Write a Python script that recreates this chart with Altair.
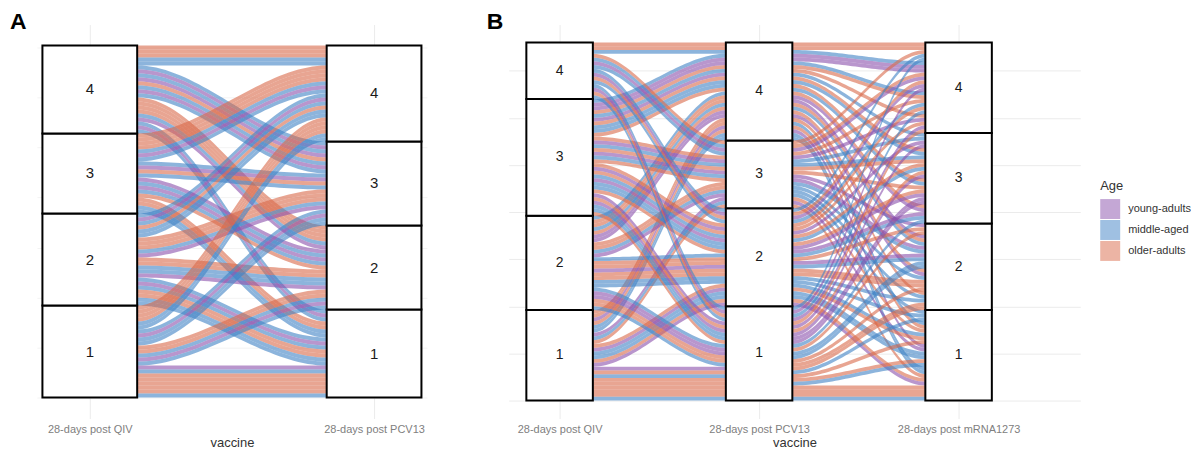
import altair as alt
import numpy as np
import pandas as pd

alt.data_transformers.disable_max_rows()

FONT = "Liberation Sans"
AGE_LEVELS = ["young-adults", "middle-aged", "older-adults"]
AGE_CODE = {"Y": "young-adults", "M": "middle-aged", "O": "older-adults"}
AGE_COLORS = ["#8A50AC", "#3F82C5", "#D9694A"]

A_AXES = ["28-days post QIV", "28-days post PCV13"]
B_AXES = ["28-days post QIV", "28-days post PCV13", "28-days post mRNA1273"]

# ---- Panel A: QIV quartile -> PCV13 quartile; ages of the subjects in each cell (top to bottom)
A_from = [4, 4, 4, 4, 3, 3, 3, 3, 2, 2, 2, 2, 1, 1, 1, 1]
A_to = [4, 3, 2, 1, 4, 3, 2, 1, 4, 3, 2, 1, 4, 3, 2, 1]
A_ages = ["OOOMM", "MYMYOMYM", "OOOOMY", "MYM",
          "OOOOMYM", "MYOM", "YMYMO", "OOMM",
          "MYMOMM", "OOOMY", "OOMMY", "MYMOOMM",
          "OOOOMM", "MYMM", "OOMYM", "YMOOOOOM"]

# ---- Panel B: one character per subject (grouped by PCV13 quartile)
B_pcv = ("44444444444444444444444444"
         "333333333333333333"
         "22222222222222222222222222"
         "1111111111111111111111111")
B_qiv = ("444" "3333333333" "2222222" "111111"
         "4444" "3333333" "2222" "111"
         "4444" "33333333" "22222222" "111111"
         "4444" "333333" "222222" "111111111")
B_mrna = ("443" "4231423412" "3412342" "431321"
          "3241" "4231243" "2413" "421"
          "2134" "34123142" "23413214" "312431"
          "4321" "324132" "413213" "234112141")
B_age = ("OOM" "MYOMYOMYOM" "OMYOMOY" "OOMYOM"
         "MYOM" "OYMOMYO" "MOYO" "YMO"
         "OMYM" "OOMYMOYM" "OOMMYOMO" "YOMOMY"
         "MYOM" "OMYOYM" "MOYOMY" "OMYOOOOOM")

W = 1 / 6  # half width of a stratum box (axis units)
T = np.linspace(0, 1, 41)
S = 3 * T ** 2 - 2 * T ** 3


def lode_bottoms(strata, keys):
    counts = {s: strata.count(s) for s in range(1, 5)}
    top, cum = {}, 0
    for s in range(1, 5):
        cum += counts[s]
        top[s] = cum
    pos = [0] * len(strata)
    for s in range(1, 5):
        idx = sorted([i for i, v in enumerate(strata) if v == s], key=lambda i: keys[i])
        for k, i in enumerate(idx):
            pos[i] = top[s] - k - 1
    return pos


def strata_rows(strata, axis_pos):
    rows, cum = [], 0
    for s in range(1, 5):
        n = strata.count(s)
        rows.append(dict(x0=axis_pos - W, x1=axis_pos + W, xc=axis_pos,
                         lo=cum, hi=cum + n, yc=cum + n / 2, label=str(s)))
        cum += n
    return rows


def flow_rows(xa, lo_a, lo_b, ages, prefix):
    rows = []
    x0, x1 = xa + W, xa + 1 - W
    for i, (a, b, g) in enumerate(zip(lo_a, lo_b, ages)):
        for t, s in zip(T, S):
            lo = a + (b - a) * s
            rows.append(dict(rid=f"{prefix}{i}", x=x0 + (x1 - x0) * t, lo=lo, hi=lo + 1,
                             age=AGE_CODE[g]))
    return rows


# ---- build panel A
qa, pa, ga = [], [], []
for f, t, ages in zip(A_from, A_to, A_ages):
    for g in ages:
        qa.append(f)
        pa.append(t)
        ga.append(g)
nA = len(qa)
A_left = lode_bottoms(qa, [(-pa[i], i) for i in range(nA)])
A_right = lode_bottoms(pa, [(-qa[i], i) for i in range(nA)])
A_flow = pd.DataFrame(flow_rows(1, A_left, A_right, ga, "a"))
A_strata = pd.DataFrame(strata_rows(qa, 1) + strata_rows(pa, 2))

# ---- build panel B
qb = [int(c) for c in B_qiv]
pb = [int(c) for c in B_pcv]
mb = [int(c) for c in B_mrna]
gb = list(B_age)
nB = len(qb)
assert len(pb) == nB and len(mb) == nB and len(gb) == nB
B1_left = lode_bottoms(qb, [(-pb[i], -mb[i], i) for i in range(nB)])
B1_right = lode_bottoms(pb, [(-qb[i], -mb[i], i) for i in range(nB)])
B2_left = lode_bottoms(pb, [(-mb[i], -qb[i], i) for i in range(nB)])
B2_right = lode_bottoms(mb, [(-qb[i], -pb[i], i) for i in range(nB)])
B_flow = pd.DataFrame(flow_rows(1, B1_left, B1_right, gb, "b") +
                      flow_rows(2, B2_left, B2_right, gb, "c"))
B_strata = pd.DataFrame(strata_rows(qb, 1) + strata_rows(pb, 2) + strata_rows(mb, 3))


def panel(flow_df, strata_df, axes_names, xdom, ydom, width, height, letter, letter_dx,
          legend, num_size, grid_color):
    xscale = alt.Scale(domain=xdom, nice=False, zero=False)
    yscale = alt.Scale(domain=ydom, nice=False, zero=False)
    names = "[''," + ",".join(f"'{n}'" for n in axes_names) + "]"
    xaxis = alt.Axis(values=list(range(1, len(axes_names) + 1)), labelExpr=f"{names}[datum.value]",
                     title="vaccine", grid=True, gridColor="#EBEBEB", domain=False, ticks=False,
                     labelFont=FONT, labelFontSize=11, labelColor="#808080", labelPadding=5,
                     titleFont=FONT, titleFontSize=13, titleFontWeight="normal",
                     titleColor="#333333", titlePadding=2)
    yaxis = alt.Axis(values=[k * 12.5 for k in range(8)], labels=False, ticks=False,
                     domain=False, title=None, grid=True, gridColor=grid_color)
    color_kw = dict(scale=alt.Scale(domain=AGE_LEVELS, range=AGE_COLORS))
    color_kw["legend"] = legend
    flows = alt.Chart(flow_df).mark_area(opacity=0.6, interpolate="linear").encode(
        x=alt.X("x:Q", scale=xscale, axis=xaxis),
        y=alt.Y("lo:Q", scale=yscale, axis=yaxis, stack=None),
        y2="hi:Q",
        color=alt.Color("age:N", **color_kw),
        detail="rid:N",
    )
    boxes = alt.Chart(strata_df).mark_rect(fill="white", stroke="black", strokeWidth=2).encode(
        x=alt.X("x0:Q", scale=xscale, axis=xaxis), x2="x1:Q",
        y=alt.Y("lo:Q", scale=yscale, axis=yaxis), y2="hi:Q",
    )
    nums = alt.Chart(strata_df).mark_text(font=FONT, fontSize=num_size, color="#1a1a1a").encode(
        x=alt.X("xc:Q", scale=xscale, axis=xaxis),
        y=alt.Y("yc:Q", scale=yscale, axis=yaxis),
        text="label:N",
    )
    tag = alt.Chart(pd.DataFrame({"t": [letter]})).mark_text(
        align="left", baseline="top", font=FONT, fontSize=23, fontWeight="bold", color="black"
    ).encode(x=alt.value(letter_dx), y=alt.value(-14), text="t:N")
    return alt.layer(flows, boxes, nums, tag).properties(
        width=width, height=height,
        view=alt.ViewBackground(stroke="transparent", strokeWidth=0),
    )


legend_B = alt.Legend(title="Age", orient="none", legendX=593, legendY=156,
                      symbolType="square", symbolSize=400, symbolOpacity=0.5,
                      symbolStrokeWidth=0, titleFont=FONT, titleFontSize=13,
                      titleFontWeight="normal", titleColor="#333333", titlePadding=6,
                      labelFont=FONT, labelFontSize=11, labelColor="#333333",
                      rowPadding=1, labelOffset=8)

pA = panel(A_flow, A_strata, A_AXES, [0.814, 2.186], [-5.235, 93.235], 391, 395, "A", -27,
           None, 15, "#F3F3F3")
pB = panel(B_flow, B_strata, B_AXES, [0.745, 3.61], [-4.763, 99.763], 573, 395, "B", -22,
           legend_B, 14, "#EBEBEB")

chart = alt.hconcat(pA, pB, spacing=60).resolve_legend(color="independent").properties(
    padding={"top": 2, "left": 2, "right": 0, "bottom": 0}
).configure_view(stroke="transparent", strokeWidth=0).configure(background="white")

chart.save("out.html", embed_options={"renderer": "svg", "actions": False})
